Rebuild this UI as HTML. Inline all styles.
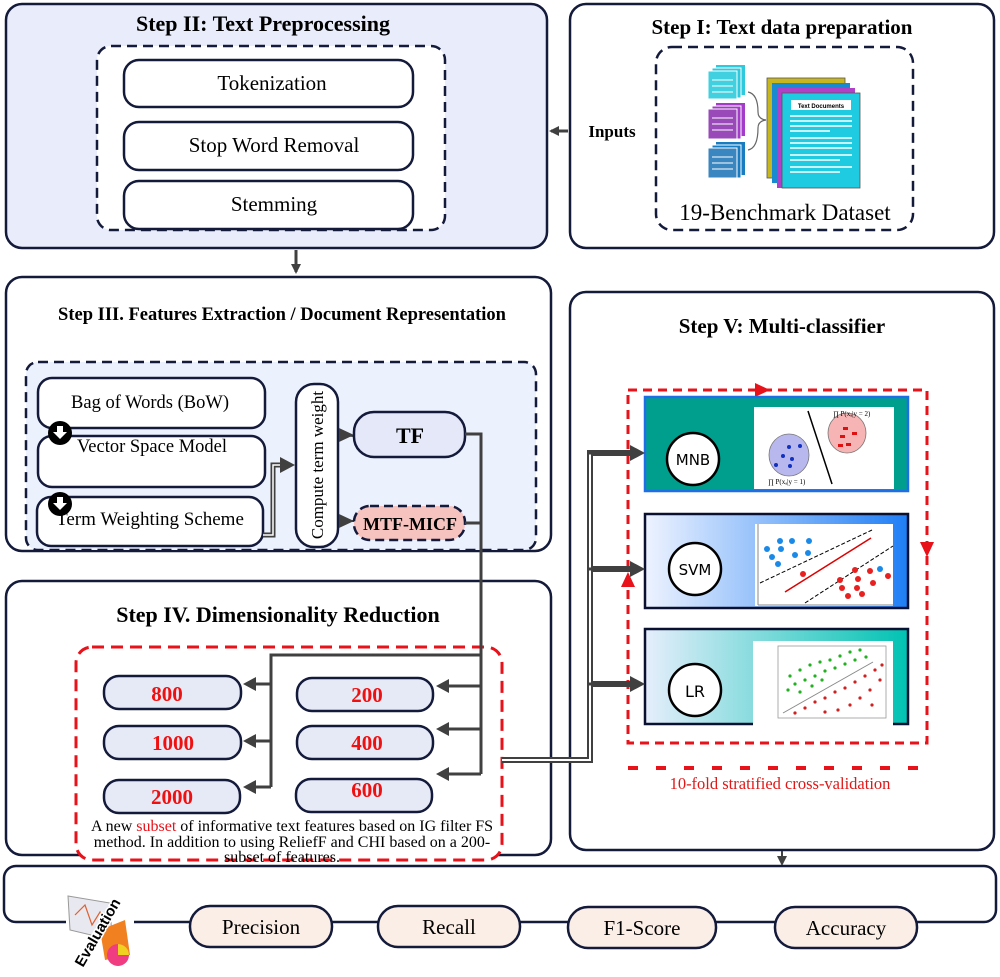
<!DOCTYPE html>
<html><head><meta charset="utf-8"><style>
html,body{margin:0;padding:0;background:#fff}
svg{display:block}
text{font-family:"Liberation Serif",serif}
</style></head><body>
<svg width="1000" height="977" viewBox="0 0 1000 977" xmlns="http://www.w3.org/2000/svg">
<defs>
<marker id="ah" markerWidth="10" markerHeight="10" refX="8" refY="5" orient="auto" markerUnits="userSpaceOnUse"><path d="M0,0 L10,5 L0,10 z" fill="#404040"/></marker>
<linearGradient id="gsvm" x1="0" x2="1"><stop offset="0" stop-color="#eef3ff"/><stop offset="1" stop-color="#1f7ef5"/></linearGradient>
<linearGradient id="glr" x1="0" x2="1"><stop offset="0" stop-color="#e6eefc"/><stop offset="1" stop-color="#00c2b2"/></linearGradient>
</defs>

<!-- Step II -->
<rect x="6" y="4" width="541" height="244" rx="16" fill="#e9ecfb" stroke="#141a3a" stroke-width="2.5"/>
<text x="263" y="31" font-size="22" font-weight="bold" text-anchor="middle">Step II: Text Preprocessing</text>
<rect x="97" y="46" width="348" height="184" rx="14" fill="#fff" stroke="#141a3a" stroke-width="2.5" stroke-dasharray="10,6"/>
<rect x="124" y="60" width="289" height="47" rx="15" fill="#fff" stroke="#141a3a" stroke-width="2.5"/>
<text x="272" y="90" font-size="21" text-anchor="middle">Tokenization</text>
<rect x="124" y="122" width="289" height="48" rx="15" fill="#fff" stroke="#141a3a" stroke-width="2.5"/>
<text x="274" y="152" font-size="21" text-anchor="middle">Stop Word Removal</text>
<rect x="124" y="181" width="289" height="48" rx="15" fill="#fff" stroke="#141a3a" stroke-width="2.5"/>
<text x="274" y="211" font-size="21" text-anchor="middle">Stemming</text>
<line x1="296" y1="250" x2="296" y2="272" stroke="#404040" stroke-width="3" marker-end="url(#ah)"/>

<!-- Step I -->
<rect x="570" y="4" width="424" height="244" rx="16" fill="#fff" stroke="#141a3a" stroke-width="2.5"/>
<text x="782" y="34" font-size="21" font-weight="bold" text-anchor="middle">Step I: Text data preparation</text>
<rect x="656" y="47" width="257" height="183" rx="16" fill="none" stroke="#141a3a" stroke-width="2.5" stroke-dasharray="10,6"/>
<text x="612" y="137" font-size="17" font-weight="bold" text-anchor="middle">Inputs</text>
<line x1="568" y1="131" x2="551" y2="131" stroke="#404040" stroke-width="3" marker-end="url(#ah)"/>
<g>
<rect x="716" y="65" width="29" height="30" fill="#2ec9dc"/><rect x="712" y="68" width="29" height="30" fill="#2ec9dc" stroke="#fff"/><rect x="708" y="71" width="29" height="28" fill="#40d0e0" stroke="#fff"/>
<rect x="716" y="103" width="29" height="33" fill="#a33cc8"/><rect x="712" y="106" width="29" height="33" fill="#a33cc8" stroke="#fff"/><rect x="708" y="109" width="29" height="30" fill="#9a4ab8" stroke="#fff"/>
<rect x="716" y="142" width="29" height="33" fill="#1a7cc0"/><rect x="712" y="145" width="29" height="33" fill="#1a7cc0" stroke="#fff"/><rect x="708" y="148" width="29" height="30" fill="#3a86c0" stroke="#fff"/>
<g stroke="#fff" stroke-width="1"><line x1="712" y1="80" x2="733" y2="80"/><line x1="712" y1="86" x2="733" y2="86"/><line x1="712" y1="92" x2="733" y2="92"/><line x1="712" y1="118" x2="733" y2="118"/><line x1="712" y1="124" x2="733" y2="124"/><line x1="712" y1="130" x2="733" y2="130"/><line x1="712" y1="157" x2="733" y2="157"/><line x1="712" y1="163" x2="733" y2="163"/><line x1="712" y1="169" x2="733" y2="169"/></g>
<path d="M748,92 q10,2 10,20 q0,7 8,8 q-8,1 -8,8 q0,20 -10,22" fill="none" stroke="#666" stroke-width="1.2"/>
<rect x="767" y="78" width="78" height="100" fill="#c8b61e" stroke="#555" stroke-width="0.8"/>
<rect x="772" y="83" width="78" height="100" fill="#1a8ad0"/>
<rect x="777" y="88" width="78" height="100" fill="#b040c8"/>
<rect x="782" y="93" width="78" height="95" fill="#1ecbe0" stroke="#555" stroke-width="0.8"/>
<rect x="791" y="100" width="60" height="10" fill="#fff"/>
<text x="821" y="108" font-size="6" font-weight="bold" text-anchor="middle" style="font-family:'Liberation Sans',sans-serif">Text Documents</text>
<g stroke="#fff" stroke-width="1.5"><line x1="790" y1="116" x2="852" y2="116"/><line x1="790" y1="121" x2="852" y2="121"/><line x1="790" y1="126" x2="852" y2="126"/><line x1="790" y1="131" x2="830" y2="131"/><line x1="790" y1="138" x2="852" y2="138"/><line x1="790" y1="143" x2="852" y2="143"/><line x1="790" y1="148" x2="852" y2="148"/><line x1="790" y1="155" x2="852" y2="155"/><line x1="790" y1="160" x2="840" y2="160"/><line x1="790" y1="167" x2="852" y2="167"/><line x1="790" y1="172" x2="840" y2="172"/></g>
</g>
<text x="785" y="220" font-size="23" text-anchor="middle">19-Benchmark Dataset</text>

<!-- Step III -->
<rect x="6" y="277" width="545" height="274" rx="16" fill="#fff" stroke="#141a3a" stroke-width="2.5"/>
<text x="282" y="320" font-size="18.5" font-weight="bold" text-anchor="middle">Step III. Features Extraction / Document Representation</text>
<rect x="26" y="362" width="510" height="188" rx="12" fill="#ebf1fd" stroke="#141a3a" stroke-width="2.5" stroke-dasharray="10,6"/>
<rect x="38" y="378" width="227" height="50" rx="14" fill="#fff" stroke="#141a3a" stroke-width="2.5"/>
<text x="150" y="408" font-size="18.5" text-anchor="middle">Bag of Words (BoW)</text>
<rect x="38" y="436" width="227" height="51" rx="14" fill="#fff" stroke="#141a3a" stroke-width="2.5"/>
<text x="152" y="452" font-size="18.5" text-anchor="middle">Vector Space Model</text>
<rect x="37" y="497" width="226" height="49" rx="14" fill="#fff" stroke="#141a3a" stroke-width="2.5"/>
<text x="150" y="525" font-size="19" text-anchor="middle">Term Weighting Scheme</text>
<circle cx="60" cy="433" r="12" fill="#000"/><path d="M57,426 h6 v6 h4 l-7,7 l-7,-7 h4z" fill="#fff"/>
<circle cx="60" cy="504" r="12" fill="#000"/><path d="M57,497 h6 v6 h4 l-7,7 l-7,-7 h4z" fill="#fff"/>
<path d="M263,535 h10 v-70 h8" fill="none" stroke="#404040" stroke-width="5"/><path d="M263,535 h10 v-70 h8" fill="none" stroke="#fff" stroke-width="1.5"/>
<path d="M280,457 L295,465 L280,473z" fill="#404040"/>
<rect x="296" y="384" width="42" height="163" rx="18" fill="#fff" stroke="#141a3a" stroke-width="2.5"/>
<text transform="translate(323,465) rotate(-90)" font-size="17" text-anchor="middle">Compute term weight</text>
<path d="M339,435 L354,436 M339,521 L354,521" stroke="#404040" stroke-width="2"/>
<path d="M339,428 L354,435 L339,442z M339,514 L354,521 L339,528z" fill="#404040"/>
<rect x="354" y="412" width="111" height="45" rx="20" fill="#e4e8f8" stroke="#141a3a" stroke-width="2.5"/>
<text x="410" y="443" font-size="22" font-weight="bold" text-anchor="middle">TF</text>
<rect x="354" y="506" width="111" height="34" rx="16" fill="#f7c3bf" stroke="#141a3a" stroke-width="2.5" stroke-dasharray="9,5"/>
<text x="410" y="530" font-size="18" font-weight="bold" text-anchor="middle">MTF-MICF</text>

<!-- Step IV -->
<rect x="6" y="581" width="545" height="274" rx="16" fill="#fff" stroke="#141a3a" stroke-width="2.5"/>
<text x="278" y="622" font-size="22" font-weight="bold" text-anchor="middle">Step IV. Dimensionality Reduction</text>
<rect x="76" y="647" width="426" height="213" rx="16" fill="#fff" stroke="#e8121a" stroke-width="3" stroke-dasharray="12,7"/>
<g fill="#e6e9f6" stroke="#141a3a" stroke-width="2.5">
<rect x="104" y="676" width="137" height="33" rx="15"/><rect x="104" y="726" width="137" height="33" rx="15"/><rect x="104" y="780" width="136" height="33" rx="15"/>
<rect x="297" y="678" width="136" height="33" rx="15"/><rect x="297" y="726" width="136" height="33" rx="15"/><rect x="296" y="779" width="136" height="33" rx="15"/>
</g>
<g font-size="21" font-weight="bold" fill="#f01010" text-anchor="middle">
<text x="167" y="701">800</text><text x="173" y="750">1000</text><text x="172" y="804">2000</text>
<text x="367" y="702">200</text><text x="367" y="750">400</text><text x="367" y="797">600</text>
</g>
<text x="292" y="831" font-size="16" text-anchor="middle">A new <tspan fill="#e8121a">subset</tspan> of informative text features based on IG filter FS</text>
<text x="292" y="847" font-size="16" text-anchor="middle">method. In addition to using ReliefF and CHI based on a 200-</text>
<text x="282" y="862" font-size="16" text-anchor="middle">subset of features.</text>
<g fill="none" stroke="#404040" stroke-width="3">
<path d="M465,434 H481 V774"/><path d="M465,523 H481"/>
<path d="M481,655 H271 V787"/>
<path d="M271,684 H252"/><path d="M271,741 H252"/><path d="M271,787 H252"/>
<path d="M481,686 H446"/><path d="M481,729 H446"/><path d="M481,774 H446"/>
</g>
<g fill="#404040">
<path d="M243,684 L256,677 L256,691z"/><path d="M243,741 L256,734 L256,748z"/><path d="M243,787 L256,780 L256,794z"/>
<path d="M436,686 L449,679 L449,693z"/><path d="M436,729 L449,722 L449,736z"/><path d="M436,774 L449,767 L449,781z"/>
</g>

<!-- Step V -->
<rect x="570" y="292" width="424" height="558" rx="16" fill="#fff" stroke="#141a3a" stroke-width="2.5"/>
<text x="782" y="333" font-size="21" font-weight="bold" text-anchor="middle">Step V: Multi-classifier</text>
<rect x="628" y="390" width="299" height="353" fill="none" stroke="#e8121a" stroke-width="3" stroke-dasharray="9,6"/>
<path d="M628,768 H924" stroke="#e8121a" stroke-width="4" stroke-dasharray="10,18"/>
<path d="M755,383 L770,390 L755,397z" fill="#e8121a"/>
<path d="M920,542 L934,542 L927,557z" fill="#e8121a"/>
<path d="M621,587 L635,587 L628,572z" fill="#e8121a"/>
<text x="780" y="789" font-size="16.5" fill="#e01818" text-anchor="middle">10-fold stratified cross-validation</text>
<rect x="645" y="397" width="263" height="94" fill="#009e8c" stroke="#1e6ee8" stroke-width="2.5"/>
<rect x="754" y="407" width="140" height="82" fill="#fff"/>
<ellipse cx="789" cy="455" rx="20" ry="21" fill="#b8b8ef" stroke="#777" stroke-width="0.8"/>
<ellipse cx="847" cy="433" rx="19" ry="20" fill="#f6b4b4" stroke="#777" stroke-width="0.8"/>
<line x1="808" y1="411" x2="832" y2="484" stroke="#000" stroke-width="1.5"/>
<g fill="#1030c0"><circle cx="789" cy="447" r="2"/><circle cx="800" cy="446" r="2"/><circle cx="783" cy="456" r="2"/><circle cx="792" cy="459" r="2"/><circle cx="776" cy="465" r="2"/><circle cx="790" cy="466" r="2"/></g>
<g fill="#e01010"><rect x="843" y="427" width="5" height="3"/><rect x="852" y="432" width="5" height="3"/><rect x="840" y="435" width="5" height="3"/><rect x="846" y="443" width="5" height="3"/><rect x="838" y="444" width="5" height="3"/></g>
<text x="768" y="484" font-size="7">∏ P(xₐ|y = 1)</text><text x="833" y="416" font-size="7">∏ P(xₐ|y = 2)</text>
<circle cx="693" cy="459" r="26" fill="#fff" stroke="#000" stroke-width="2.5"/>
<text x="693" y="465" font-size="15" text-anchor="middle" style="font-family:'DejaVu Sans',sans-serif">MNB</text>
<rect x="645" y="514" width="263" height="94" fill="url(#gsvm)" stroke="#0a1030" stroke-width="2.5"/>
<rect x="755" y="524" width="138" height="82" fill="#fff"/>
<line x1="760" y1="583" x2="872" y2="530" stroke="#000" stroke-dasharray="4,2"/>
<line x1="805" y1="603" x2="893" y2="546" stroke="#000" stroke-dasharray="4,2"/>
<line x1="785" y1="592" x2="871" y2="538" stroke="#d00" stroke-width="1.5"/>
<line x1="758" y1="524" x2="758" y2="605" stroke="#888"/><line x1="758" y1="605" x2="893" y2="605" stroke="#888"/>
<g fill="#1a8ae8"><circle cx="780" cy="541" r="3"/><circle cx="792" cy="541" r="3"/><circle cx="809" cy="541" r="3"/><circle cx="767" cy="549" r="3"/><circle cx="781" cy="549" r="3"/><circle cx="795" cy="555" r="3"/><circle cx="808" cy="553" r="3"/><circle cx="772" cy="557" r="3"/><circle cx="778" cy="564" r="3"/><circle cx="880" cy="569" r="3"/></g>
<g fill="#e82020"><circle cx="803" cy="574" r="3"/><circle cx="855" cy="570" r="3"/><circle cx="870" cy="571" r="3"/><circle cx="888" cy="576" r="3"/><circle cx="840" cy="580" r="3"/><circle cx="858" cy="579" r="3"/><circle cx="873" cy="583" r="3"/><circle cx="842" cy="588" r="3"/><circle cx="857" cy="588" r="3"/><circle cx="848" cy="596" r="3"/><circle cx="862" cy="594" r="3"/></g>
<circle cx="695" cy="569" r="26" fill="#fff" stroke="#000" stroke-width="2.5"/>
<text x="695" y="575" font-size="15" text-anchor="middle" style="font-family:'DejaVu Sans',sans-serif">SVM</text>
<rect x="645" y="629" width="263" height="95" fill="url(#glr)" stroke="#0a1030" stroke-width="2.5"/>
<rect x="753" y="641" width="140" height="85" fill="#fff"/>
<rect x="778" y="646" width="108" height="72" fill="none" stroke="#999" stroke-width="0.8"/>
<line x1="783" y1="713" x2="873" y2="662" stroke="#888"/>
<g fill="#20b020"><circle cx="790" cy="676" r="1.6"/><circle cx="800" cy="670" r="1.6"/><circle cx="810" cy="665" r="1.6"/><circle cx="820" cy="662" r="1.6"/><circle cx="830" cy="660" r="1.6"/><circle cx="840" cy="656" r="1.6"/><circle cx="850" cy="652" r="1.6"/><circle cx="860" cy="650" r="1.6"/><circle cx="795" cy="684" r="1.6"/><circle cx="805" cy="680" r="1.6"/><circle cx="815" cy="676" r="1.6"/><circle cx="825" cy="671" r="1.6"/><circle cx="835" cy="668" r="1.6"/><circle cx="845" cy="664" r="1.6"/><circle cx="855" cy="660" r="1.6"/><circle cx="788" cy="690" r="1.6"/><circle cx="800" cy="692" r="1.6"/><circle cx="812" cy="686" r="1.6"/><circle cx="822" cy="680" r="1.6"/><circle cx="866" cy="657" r="1.6"/></g>
<g fill="#d02020"><circle cx="795" cy="713" r="1.6"/><circle cx="805" cy="708" r="1.6"/><circle cx="815" cy="702" r="1.6"/><circle cx="825" cy="698" r="1.6"/><circle cx="835" cy="692" r="1.6"/><circle cx="845" cy="688" r="1.6"/><circle cx="855" cy="682" r="1.6"/><circle cx="865" cy="676" r="1.6"/><circle cx="875" cy="670" r="1.6"/><circle cx="880" cy="680" r="1.6"/><circle cx="870" cy="690" r="1.6"/><circle cx="860" cy="698" r="1.6"/><circle cx="850" cy="705" r="1.6"/><circle cx="838" cy="710" r="1.6"/><circle cx="825" cy="712" r="1.6"/><circle cx="872" cy="705" r="1.6"/><circle cx="882" cy="665" r="1.6"/></g>
<circle cx="695" cy="690" r="26" fill="#fff" stroke="#000" stroke-width="2.5"/>
<text x="695" y="697" font-size="16" text-anchor="middle" style="font-family:'DejaVu Sans',sans-serif">LR</text>

<!-- connector to classifiers (drawn on top) -->
<path d="M502,760 H590 V453 H632 M590,569 H632 M590,684 H632" fill="none" stroke="#404040" stroke-width="6"/>
<path d="M502,760 H590 V453 H632 M590,569 H632 M590,684 H632" fill="none" stroke="#fff" stroke-width="2"/>
<path d="M587,453 H632 M587,569 H632 M587,684 H632" stroke="#404040" stroke-width="3"/>
<g fill="#404040"><path d="M645,453 L630,445 L630,461z"/><path d="M645,569 L630,561 L630,577z"/><path d="M645,684 L630,676 L630,692z"/></g>

<line x1="782" y1="851" x2="782" y2="864" stroke="#404040" stroke-width="2" marker-end="url(#ah)"/>

<!-- Evaluation -->
<rect x="4" y="866" width="992" height="56" rx="12" fill="#fff" stroke="#141a3a" stroke-width="2.5"/>
<g>
<rect x="66" y="890" width="68" height="85" fill="#fff"/>
<path d="M68,896 L110,903 L112,940 L70,930z" fill="#e8e8f0" stroke="#999"/>
<path d="M75,915 L85,905 L92,925 L100,912 L108,930" fill="none" stroke="#e06030" stroke-width="1.2"/>
<path d="M100,930 L125,920 L130,955 L105,960z" fill="#f08020"/>
<circle cx="118" cy="955" r="11" fill="#f03c80"/><path d="M118,955 L118,944 A11,11 0 0 1 129,955z" fill="#f0d020"/>
<text transform="translate(102,935) rotate(-60)" font-size="15" font-weight="bold" text-anchor="middle" style="font-family:'Liberation Sans',sans-serif" stroke="#fff" stroke-width="3" paint-order="stroke">Evaluation</text>
</g>
<g fill="#fbeee6" stroke="#141a3a" stroke-width="2.5">
<rect x="190" y="906" width="142" height="41" rx="20"/><rect x="378" y="906" width="142" height="41" rx="20"/><rect x="568" y="907" width="148" height="41" rx="20"/><rect x="775" y="907" width="142" height="41" rx="20"/>
</g>
<g font-size="21" text-anchor="middle"><text x="261" y="934">Precision</text><text x="449" y="934">Recall</text><text x="642" y="935">F1-Score</text><text x="846" y="935">Accuracy</text></g>
</svg>
</body></html>
